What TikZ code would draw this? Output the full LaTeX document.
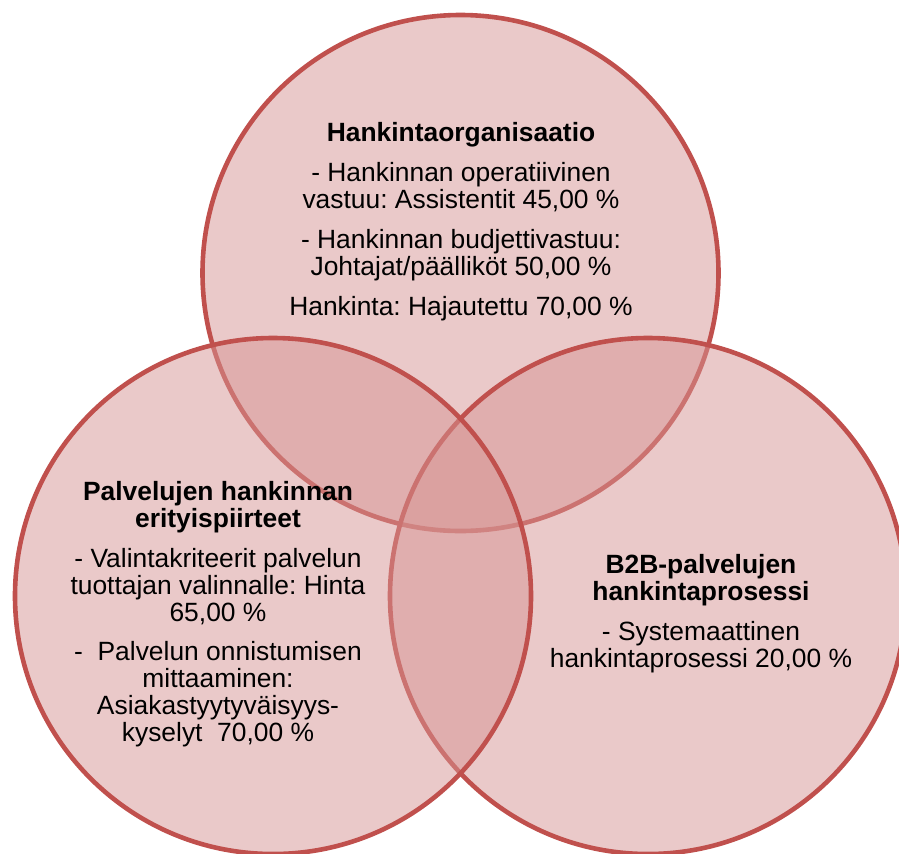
\documentclass[tikz,border=0pt]{standalone}
\usepackage{fontspec}
\setmainfont{Liberation Sans}
\frenchspacing
\definecolor{vennline}{RGB}{192,80,77}
\definecolor{vennfill}{RGB}{214,148,147}

\begin{document}
\begin{tikzpicture}[
	x = 0.5pt, y = -0.5pt, % one unit = one pixel of the sketch
	V/.style={circle, draw=vennline, fill=vennfill, fill opacity=0.5, line width=2.3pt, minimum size=258pt, inner sep=0pt},  %circle of the venn
	T/.style={align=center, inner sep=0pt, font=\fontsize{13.2pt}{13.5pt}\selectfont},                                    %text block
	]
	\useasboundingbox (0,0) rectangle (899,853);
	\clip (0,0) rectangle (899,853);

	% Circles (top first, left last)
	\node[V] (H) at (460.5,273) {};
	\node[V] (B) at (648,596) {};
	\node[V] (P) at (273,596) {};

	% Texts inside the circles
	\node[T] (Ht) at (461,222) {\textbf{Hankintaorganisaatio}\\[6.5pt]
		- Hankinnan operatiivinen\\ vastuu: Assistentit 45,00 \%\\[6.5pt]
		- Hankinnan budjettivastuu:\\ Johtajat/päälliköt 50,00 \%\\[6.5pt]
		Hankinta: Hajautettu 70,00 \%};
	\node[T] (Pt) at (218,614) {\textbf{Palvelujen hankinnan}\\ \textbf{erityispiirteet}\\[6.5pt]
		- Valintakriteerit palvelun\\ tuottajan valinnalle: Hinta\\ 65,00 \%\\[6pt]
		- \ Palvelun onnistumisen\\ mittaaminen:\\ Asiakastyytyväisyys-\\ kyselyt \ 70,00 \%};
	\node[T] (Bt) at (701,614) {\textbf{B2B-palvelujen}\\ \textbf{hankintaprosessi}\\[6.5pt]
		- Systemaattinen\\ hankintaprosessi 20,00 \%};

\end{tikzpicture}
\end{document}
